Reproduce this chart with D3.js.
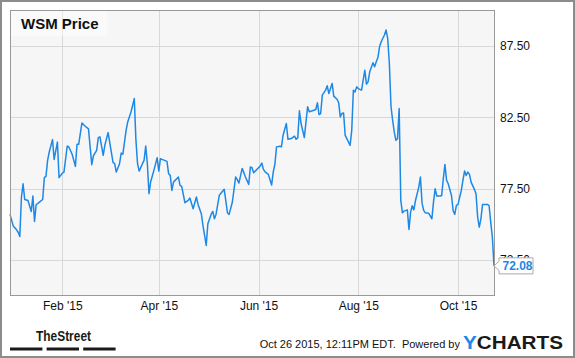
<!DOCTYPE html>
<html>
<head>
<meta charset="utf-8">
<script src="https://cdn.jsdelivr.net/npm/d3@7"></script>
<style>
  html, body { margin: 0; padding: 0; background: #fff; }
  svg { display: block; }
  text { font-family: "Liberation Sans", Arial, sans-serif; }
</style>
</head>
<body>
<svg id="chart" width="575" height="358"></svg>
<script>
// ---- data (day offsets from 2014-12-31, closing price) ----
const dayOffsets = [0,2,4,5,6,7,8,9,11,13,14,15,16,18,20,21,22,23,24,26,27,29,30,32,33,35,36,38,40,41,42,44,46,48,50,51,53,54,55,57,58,60,63,64,65,67,68,69,71,72,74,76,77,78,79,81,82,83,84,85,86,88,90,91,92,93,96,97,98,99,100,101,103,104,105,107,109,110,112,114,115,117,118,120,121,123,124,125,126,128,131,133,134,136,138,139,140,142,144,146,147,148,149,152,153,154,155,156,158,160,161,162,163,165,166,167,169,170,172,174,175,176,177,178,180,182,183,185,187,188,189,190,191,193,194,195,197,198,200,201,202,203,204,205,206,207,208,209,210,211,212,213,215,217,218,219,220,222,223,224,225,226,227,229,230,231,232,233,234,235,236,237,238,239,240,241,243,244,245,246,247,248,250,251,252,253,254,256,258,259,260,261,263,264,265,266,267,268,270,271,272,273,274,276,277,278,279,280,281,282,284,285,286,287,288,289,292,293,294,295,296];
const prices = [75.69,74.87,74.61,74.44,74.14,76.91,77.84,76.74,76.67,75.90,76.98,75.19,76.37,76.55,76.74,78.27,78.36,79.48,80.07,80.94,79.55,80.77,78.27,78.59,78.66,80.49,80.42,79.91,79.06,80.61,80.61,82.11,81.88,81.69,79.18,79.79,80.19,81.08,81.13,79.84,80.54,81.43,79.34,79.25,78.66,79.25,80.00,79.91,81.59,82.18,82.88,83.82,80.94,79.25,78.73,79.25,79.48,80.49,79.25,77.14,77.96,78.78,79.67,78.73,79.60,79.55,79.41,78.55,78.43,77.37,77.96,78.08,78.31,77.73,77.66,76.51,76.67,76.84,76.09,76.91,76.39,75.74,74.92,73.51,75.03,75.69,75.90,75.39,75.69,77.03,77.45,75.81,75.69,76.56,78.32,78.13,77.89,78.92,78.32,77.80,79.02,78.97,78.62,78.97,79.07,79.30,78.85,78.67,78.50,77.75,78.67,79.21,80.43,80.47,80.43,81.25,82.07,80.96,81.01,81.18,80.96,81.08,82.96,82.07,81.08,83.24,82.89,82.96,83.05,83.52,82.70,82.77,84.06,84.41,84.72,84.17,84.88,83.99,83.77,83.54,82.53,82.77,82.81,81.24,81.01,80.77,80.54,81.59,84.41,84.29,84.64,84.52,84.41,85.81,84.83,84.99,85.70,86.33,86.05,86.40,86.70,87.45,87.81,88.28,88.63,88.04,86.28,83.28,82.30,81.48,80.89,81.01,83.12,76.67,75.80,75.92,76.01,74.63,75.85,76.30,76.01,76.67,77.61,78.31,76.48,75.97,75.80,75.78,75.38,76.55,77.49,76.98,76.98,77.02,78.20,79.20,78.08,77.84,77.02,75.97,75.69,76.32,76.39,77.37,78.08,78.73,78.43,78.66,78.50,77.96,77.45,77.14,75.50,74.80,75.38,76.39,76.39,76.30,75.15,74.09,72.08];
const yTicks = [72.5, 77.5, 82.5, 87.5];
const xTickDates = ["2015-02-01", "2015-04-01", "2015-06-01", "2015-08-01", "2015-10-01"];
const yDomain = [70, 90];
const title = "WSM Price";
const footerText = "Oct 26 2015, 12:11PM EDT.  Powered by";

// ---- build ----
const baseDate = new Date(2014, 11, 31);
const data = dayOffsets.map((d, i) => ({ date: d3.timeDay.offset(baseDate, d), value: prices[i] }));

const svg = d3.select("#chart");
const W = 575, H = 358;
const plot = { left: 10, right: 494, top: 10.5, bottom: 295.5 };

const x = d3.scaleTime()
  .domain(d3.extent(data, d => d.date))
  .range([plot.left, plot.right]);
const y = d3.scaleLinear().domain(yDomain).range([plot.bottom, plot.top]);

// outer frame
svg.append("rect").attr("x", 1).attr("y", 1).attr("width", W - 2).attr("height", H - 2)
  .attr("fill", "#fff").attr("stroke", "#8c8c8c").attr("stroke-width", 2);

// plot background
svg.append("rect").attr("x", plot.left).attr("y", plot.top)
  .attr("width", plot.right - plot.left).attr("height", plot.bottom - plot.top)
  .attr("fill", "#f6f6f6");

// grid
const xTicks = xTickDates.map(s => d3.timeParse("%Y-%m-%d")(s));
svg.append("g").selectAll("line.h").data(yTicks).join("line")
  .attr("x1", plot.left).attr("x2", plot.right)
  .attr("y1", d => Math.round(y(d)) + 0.5).attr("y2", d => Math.round(y(d)) + 0.5)
  .attr("stroke", "#d8d8d8").attr("stroke-width", 1);
svg.append("g").selectAll("line.v").data(xTicks).join("line")
  .attr("y1", plot.top).attr("y2", plot.bottom)
  .attr("x1", d => Math.round(x(d)) + 0.5).attr("x2", d => Math.round(x(d)) + 0.5)
  .attr("stroke", "#d8d8d8").attr("stroke-width", 1);

// title box
svg.append("rect").attr("x", plot.left + 1).attr("y", plot.top + 0.5)
  .attr("width", 96).attr("height", 25)
  .attr("fill", "#ffffff").attr("fill-opacity", 0.45);
svg.append("text").attr("x", 21).attr("y", 29)
  .attr("font-size", 15).attr("font-weight", "bold").attr("fill", "#111")
  .text(title);

// line
const line = d3.line().x(d => x(d.date)).y(d => y(d.value)).curve(d3.curveLinear);
svg.append("path").datum(data).attr("d", line)
  .attr("fill", "none").attr("stroke", "#1e88e5").attr("stroke-width", 1.5)
  .attr("stroke-linejoin", "round");

// plot border
svg.append("rect").attr("x", plot.left + 0.5).attr("y", plot.top)
  .attr("width", plot.right - plot.left).attr("height", plot.bottom - plot.top)
  .attr("fill", "none").attr("stroke", "#999").attr("stroke-width", 1);

// y axis (right)
const yAxis = d3.axisRight(y).tickValues(yTicks).tickFormat(d3.format(".2f")).tickSize(0).tickPadding(0);
const gy = svg.append("g").attr("transform", `translate(${plot.right + 6},0)`).call(yAxis);
gy.select(".domain").remove();
gy.selectAll("text").attr("font-size", 12).attr("fill", "#111")
  .attr("font-family", "'Liberation Sans', Arial, sans-serif");

// x axis
const xAxis = d3.axisBottom(x).tickValues(xTicks).tickFormat(d3.timeFormat("%b '%y")).tickSize(0).tickPadding(0);
const gx = svg.append("g").attr("transform", `translate(0,${plot.bottom + 6})`).call(xAxis);
gx.select(".domain").remove();
gx.selectAll("text").attr("font-size", 12).attr("fill", "#111")
  .attr("font-family", "'Liberation Sans', Arial, sans-serif");

// last value callout
const last = data[data.length - 1];
const tx = x(last.date), ty = y(last.value);
const bx = tx + 5, bw = 34, bh = 16, by = ty - 8;
svg.append("path")
  .attr("d", `M${bx},${by} H${bx + bw} V${by + bh} H${bx} V${ty + 4.5} L${tx},${ty} L${bx},${ty - 4.5} Z`)
  .attr("fill", "#fff").attr("stroke", "#aaa").attr("stroke-width", 1);
svg.append("text").attr("x", bx + 3.5).attr("y", ty + 4.5)
  .attr("font-size", 12).attr("font-weight", "bold").attr("fill", "#1e88e5")
  .text(d3.format(".2f")(last.value));

// footer: TheStreet logo
svg.append("text").attr("x", 36).attr("y", 341)
  .attr("font-family", "'Liberation Sans Narrow', 'Arial Narrow', 'Liberation Sans', sans-serif")
  .attr("font-size", 15).attr("font-weight", "bold").attr("fill", "#1a1a1a")
  .attr("textLength", 55).attr("lengthAdjust", "spacingAndGlyphs")
  .text("TheStreet");
svg.append("g").selectAll("rect").data([0, 1, 2]).join("rect")
  .attr("x", d => 10 + d * 36.6).attr("y", 347.5).attr("width", 32.4).attr("height", 3)
  .attr("fill", "#1a1a1a");

// footer text
svg.append("text").attr("x", 460).attr("y", 348).attr("text-anchor", "end")
  .attr("font-size", 11).attr("fill", "#111")
  .attr("xml:space", "preserve").style("white-space", "pre")
  .text(footerText);

// YCHARTS logo
const logo = svg.append("text").attr("x", 463).attr("y", 348.5)
  .attr("font-size", 17.5).attr("font-weight", "900")
  .attr("textLength", 100).attr("lengthAdjust", "spacingAndGlyphs");
logo.append("tspan").attr("fill", "#1e88e5").text("Y");
logo.append("tspan").attr("fill", "#1a1a1a").text("CHARTS");
</script>
</body>
</html>
